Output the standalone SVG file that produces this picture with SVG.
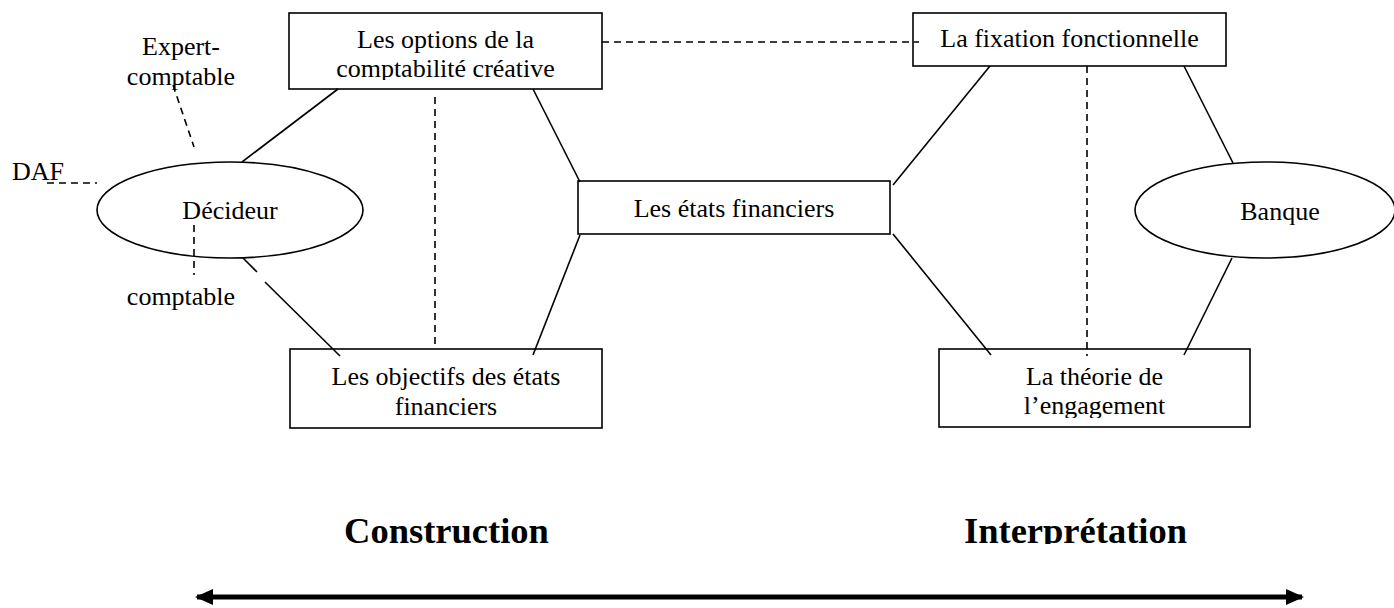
<svg xmlns="http://www.w3.org/2000/svg" width="1394" height="608" viewBox="0 0 1394 608">
<style>
.box{fill:#fff;stroke:#000;stroke-width:1.6}
.ell{fill:#fff;stroke:#000;stroke-width:1.6}
.t{font-family:"Liberation Serif","Times New Roman",serif;font-size:26px;fill:#000;text-anchor:middle}
.tl{font-family:"Liberation Serif","Times New Roman",serif;font-size:26px;fill:#000}
.b{font-family:"Liberation Serif","Times New Roman",serif;font-size:36.5px;font-weight:bold;fill:#000;text-anchor:middle}
.s{stroke:#000;stroke-width:1.6;fill:none}
.d{stroke:#000;stroke-width:1.6;fill:none;stroke-dasharray:7 5}
</style>
<defs>
<clipPath id="c1"><rect x="0" y="0" width="1394" height="80"/></clipPath>
<clipPath id="c2"><rect x="0" y="0" width="1394" height="418"/></clipPath>
<clipPath id="c3"><rect x="0" y="0" width="1394" height="544"/></clipPath>
<marker id="ah" viewBox="0 0 18 16" refX="16" refY="8" markerWidth="18" markerHeight="16" markerUnits="userSpaceOnUse" orient="auto-start-reverse">
<path d="M0,0 L18,8 L0,16 Z" fill="#000"/>
</marker>
</defs>
<g id="options">
<rect class="box" x="289" y="13" width="313" height="76"/>
<text class="t" x="445.5" y="48">Les options de la</text>
<text class="t" x="445.5" y="77" clip-path="url(#c1)">comptabilité créative</text>
</g>
<g id="fixation">
<rect class="box" x="913" y="13" width="313" height="53"/>
<text class="t" x="1069.5" y="47">La fixation fonctionnelle</text>
</g>
<g id="etats">
<rect class="box" x="578" y="181" width="312" height="53"/>
<text class="t" x="734" y="217">Les états financiers</text>
</g>
<g id="objectifs">
<rect class="box" x="290" y="349" width="312" height="79"/>
<text class="t" x="446" y="385">Les objectifs des états</text>
<text class="t" x="446" y="415">financiers</text>
</g>
<g id="theorie">
<rect class="box" x="939" y="349" width="311" height="78"/>
<text class="t" x="1094.5" y="385">La théorie de</text>
<text class="t" x="1094.5" y="414" clip-path="url(#c2)">l’engagement</text>
</g>
<g id="decideur">
<ellipse class="ell" cx="230" cy="210" rx="133" ry="48"/>
<text class="t" x="230" y="219">Décideur</text>
</g>
<g id="banque">
<ellipse class="ell" cx="1265" cy="210" rx="130" ry="48"/>
<text class="t" x="1280" y="220">Banque</text>
</g>
<g id="labels">
<text class="t" x="181" y="55">Expert-</text>
<text class="t" x="181" y="85">comptable</text>
<text class="tl" x="12" y="180">DAF</text>
<text class="t" x="181" y="305">comptable</text>
</g>
<g id="connectors">
<line class="s" x1="242" y1="162" x2="338" y2="89"/>
<line class="s" x1="243" y1="258" x2="257" y2="272"/>
<line class="s" x1="265" y1="282" x2="340" y2="356"/>
<line class="s" x1="533" y1="89" x2="580" y2="182"/>
<line class="s" x1="580" y1="235" x2="533" y2="355"/>
<line class="s" x1="893" y1="185" x2="990" y2="66"/>
<line class="s" x1="893" y1="234" x2="991" y2="355"/>
<line class="s" x1="1184" y1="66" x2="1233" y2="163"/>
<line class="s" x1="1232" y1="258" x2="1184" y2="355"/>
<line class="d" x1="602" y1="42" x2="919" y2="42"/>
<line class="d" x1="435" y1="97" x2="435" y2="349"/>
<line class="d" x1="1087" y1="66" x2="1087" y2="356"/>
<line class="d" x1="173" y1="85" x2="194" y2="147"/>
<line class="d" x1="47" y1="183" x2="97" y2="183"/>
<line class="d" x1="194" y1="225" x2="194" y2="275"/>
</g>
<g id="axis">
<line x1="197" y1="597" x2="1302" y2="597" stroke="#000" stroke-width="5" marker-start="url(#ah)" marker-end="url(#ah)"/>
<text class="b" x="446.5" y="543" clip-path="url(#c3)">Construction</text>
<text class="b" x="1075.5" y="543" clip-path="url(#c3)">Interprétation</text>
</g>
</svg>
